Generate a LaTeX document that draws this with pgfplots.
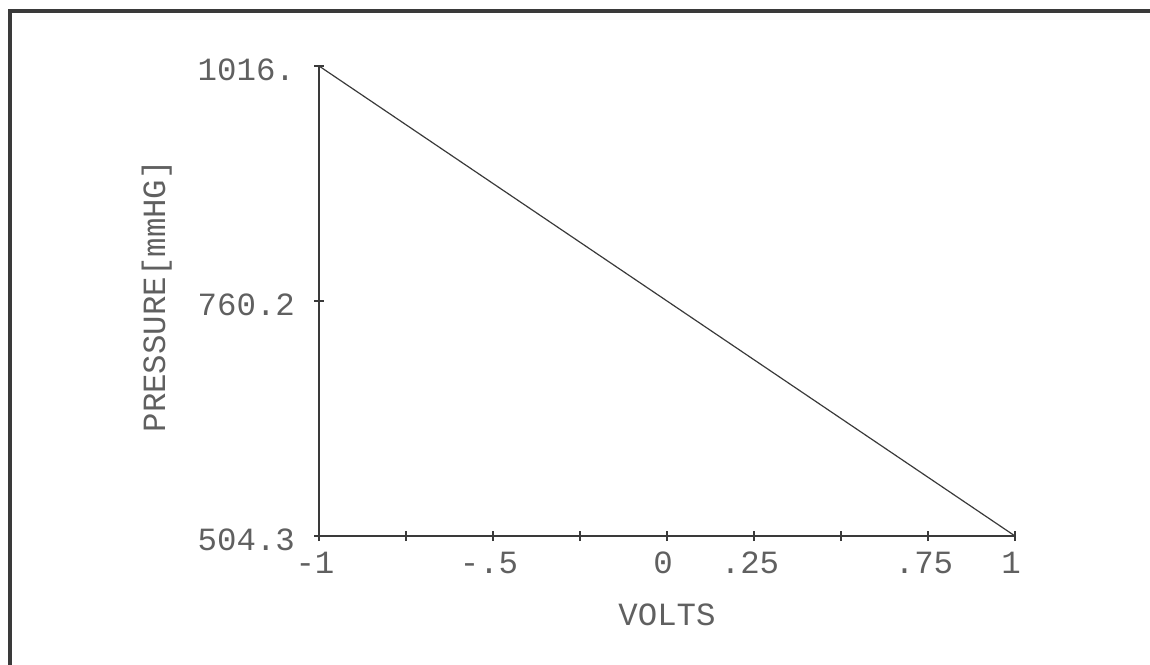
\documentclass[border=0pt]{standalone}
\usepackage{fontspec}
\usepackage{pgfplots}
\pgfplotsset{compat=1.18}
\newfontfamily\plotfont{Liberation Mono}
\definecolor{textgray}{HTML}{606060}
\definecolor{linegray}{HTML}{3A3A3A}
\begin{document}
\begin{tikzpicture}[x=1pt,y=1pt]
\useasboundingbox (0,0) rectangle (575,332);
\draw[line width=2pt, color=linegray] (4.75,-20) -- (4.75,326.5) -- (600,326.5);
\begin{axis}[
  at={(159.5pt,64pt)}, anchor=south west,
  scale only axis, width=348pt, height=235pt,
  xmin=-1, xmax=1, ymin=504.3, ymax=1016,
  axis lines=left, axis line style={-, color=linegray, line width=0.6pt},
  xtick={-1,-0.75,-0.5,-0.25,0,0.25,0.5,0.75,1},
  xticklabels={-1,,-.5,,0,.25,,.75,1},
  ytick={504.3,760.2,1016},
  yticklabels={504.3,760.2,1016.},
  tick align=center, major tick length=5pt,
  tick style={color=linegray, line width=0.6pt},
  every tick label/.append style={font=\plotfont\fontsize{16.2}{18}\selectfont, text=textgray},
  xticklabel style={anchor=north, xshift=-2pt, yshift=-2pt},
  yticklabel style={anchor=east, xshift=-6pt, yshift=-2pt},
  xlabel={VOLTS}, ylabel={PRESSURE[mmHG]},
  every axis x label/.style={at={(axis description cs:0.5,-0.168)}, anchor=center, font=\plotfont\fontsize{16.2}{18}\selectfont, text=textgray},
  every axis y label/.style={at={(axis description cs:-0.233,0.51)}, anchor=center, rotate=90, font=\plotfont\fontsize{16.2}{18}\selectfont, text=textgray},
  clip=false,
]
\addplot[color=linegray, line width=0.6pt] coordinates {(-1,1016) (1,504.3)};
\end{axis}
\end{tikzpicture}
\end{document}
